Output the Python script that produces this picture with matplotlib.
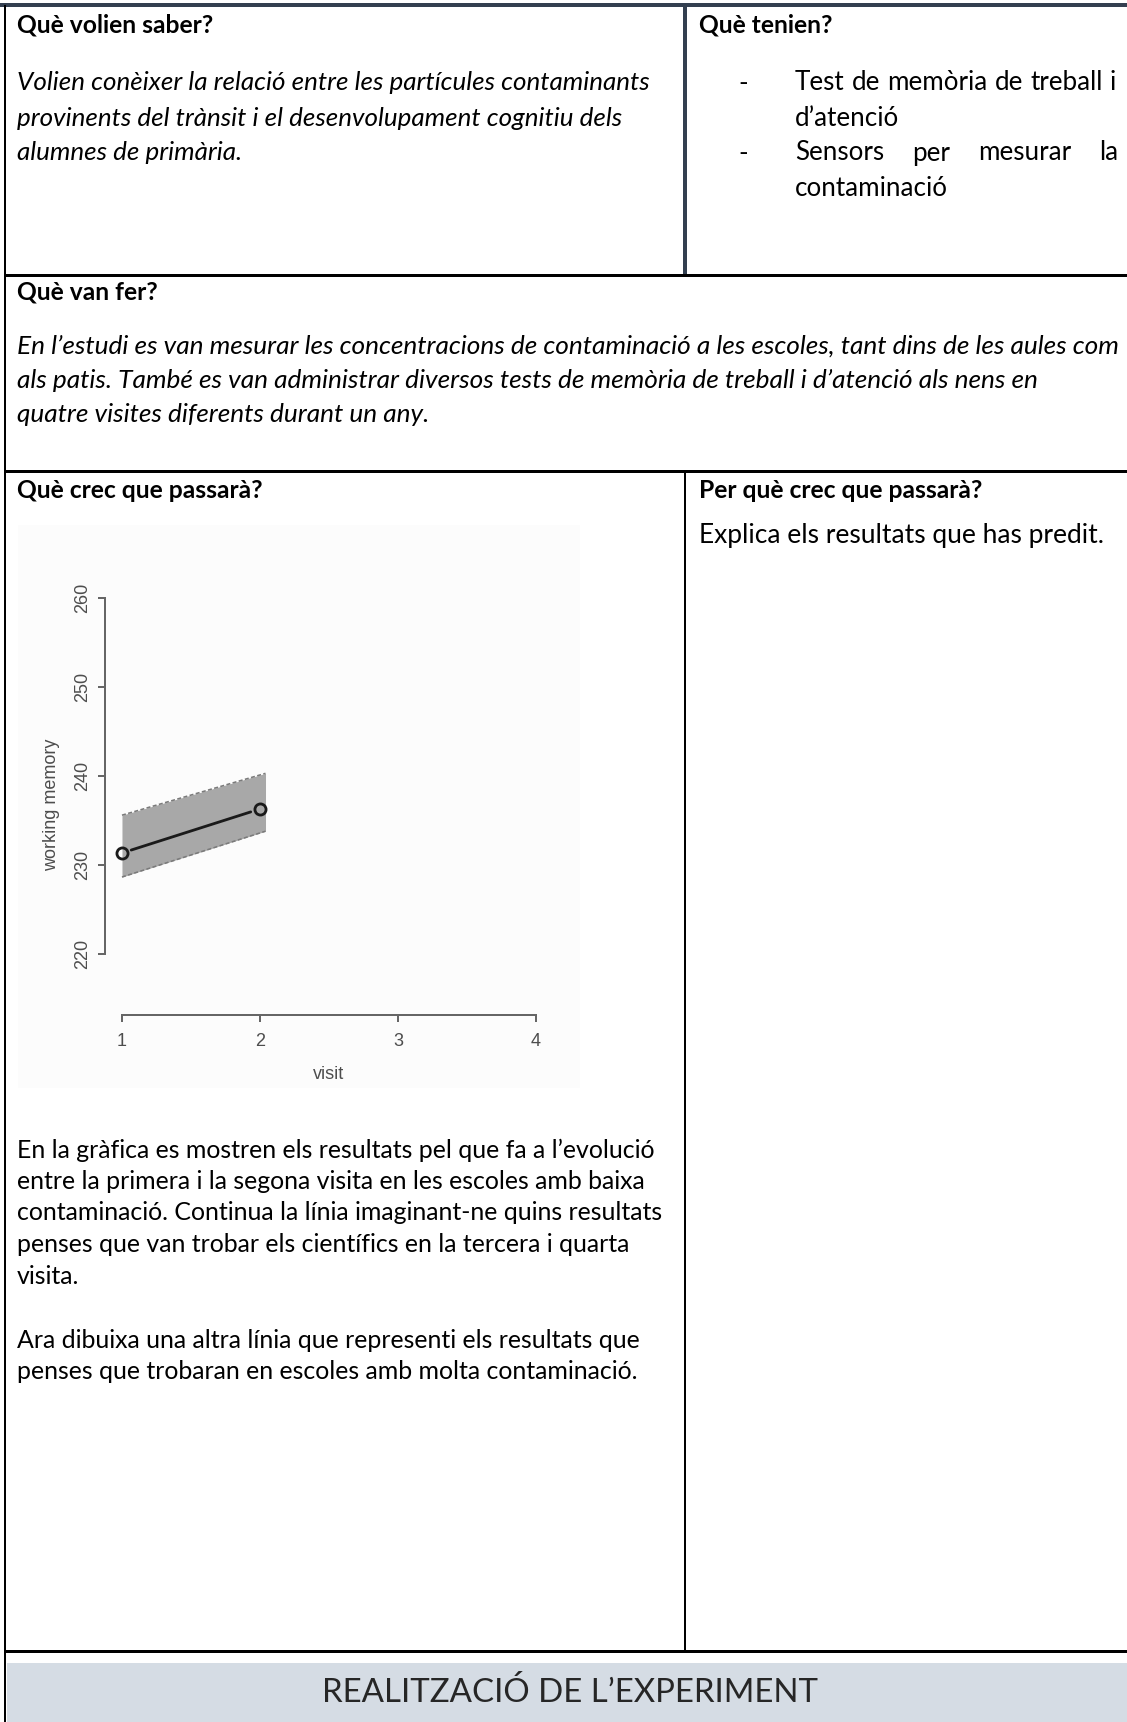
import matplotlib
matplotlib.use('Agg')
import matplotlib.pyplot as plt
from matplotlib.patches import Rectangle

# Mida del full en píxels
W, H = 1127, 1722
DPI = 100

# Dades de la gràfica (memòria de treball per visita, escoles amb baixa contaminació)
visits = [1, 2]
memory_mean = [231.35, 236.3]
band_x = [1, 2.04]
band_low = [228.65, 233.8]
band_high = [235.6, 240.3]
y_ticks = [220, 230, 240, 250, 260]
x_ticks = [1, 2, 3, 4]

# Textos de la fitxa
head_saber = 'Què volien saber?'
text_saber = ['Volien conèixer la relació entre les partícules contaminants',
              'provinents del trànsit i el desenvolupament cognitiu dels',
              'alumnes de primària.']
head_tenien = 'Què tenien?'
head_fer = 'Què van fer?'
text_fer = ['En l’estudi es van mesurar les concentracions de contaminació a les escoles, tant dins de les aules com',
            'als patis. També es van administrar diversos tests de memòria de treball i d’atenció als nens en',
            'quatre visites diferents durant un any.']
head_crec = 'Què crec que passarà?'
head_perque = 'Per què crec que passarà?'
text_perque = 'Explica els resultats que has predit.'
text_grafica = ['En la gràfica es mostren els resultats pel que fa a l’evolució',
                'entre la primera i la segona visita en les escoles amb baixa',
                'contaminació. Continua la línia imaginant-ne quins resultats',
                'penses que van trobar els científics en la tercera i quarta',
                'visita.']
text_ara = ['Ara dibuixa una altra línia que representi els resultats que',
            'penses que trobaran en escoles amb molta contaminació.']
banner = 'REALITZACIÓ DE L’EXPERIMENT'

FONT = 'Lato'
SLATE = '#333f50'

fig = plt.figure(figsize=(W / DPI, H / DPI), dpi=DPI)
canvas = fig.add_axes([0, 0, 1, 1])
canvas.set_xlim(0, W)
canvas.set_ylim(H, 0)
canvas.axis('off')
renderer = fig.canvas.get_renderer()


def px(pt):
    """Gruix en punts a partir de píxels."""
    return pt * 72 / DPI


def fit_text(x, y, s, width, size=16, **kw):
    t = canvas.text(x, y, s, fontsize=size, family=FONT, va='center', **kw)
    w = t.get_window_extent(renderer=renderer).width
    t.set_fontsize(size * width / w)
    return t.get_fontsize()


def justify(words, x0, x1, y, size, **kw):
    ts = [canvas.text(0, y, w, fontsize=size, family=FONT, va='center', **kw) for w in words]
    widths = [t.get_window_extent(renderer=renderer).width for t in ts]
    gap = (x1 - x0 - sum(widths)) / (len(words) - 1)
    x = x0
    for t, w in zip(ts, widths):
        t.set_x(x)
        x += w + gap


# Vores de la taula
canvas.plot([0, W], [5, 5], color=SLATE, lw=px(4), solid_capstyle='butt')
canvas.plot([5, 5], [5, H], color='black', lw=px(2), solid_capstyle='butt')
canvas.plot([685, 685], [5, 274], color=SLATE, lw=px(4), solid_capstyle='butt')
canvas.plot([4, W], [274.5, 274.5], color='black', lw=px(3), solid_capstyle='butt')
canvas.plot([4, W], [471, 471], color='black', lw=px(3), solid_capstyle='butt')
canvas.plot([685, 685], [471, 1650], color='black', lw=px(2), solid_capstyle='butt')
canvas.plot([4, W], [1650.5, 1650.5], color='black', lw=px(3), solid_capstyle='butt')
canvas.add_patch(Rectangle((7, 1663), W - 7, H - 1663, facecolor='#d5dce4', edgecolor='none'))

# Fila 1
hs = fit_text(17, 25, head_saber, 197, fontweight='bold')
fs = fit_text(17, 83, text_saber[0], 632, style='italic')
for i, line in enumerate(text_saber[1:]):
    canvas.text(17, 118 + 35 * i, line, fontsize=fs, family=FONT, style='italic', va='center')

canvas.text(699, 25, head_tenien, fontsize=hs, fontweight='bold', family=FONT, va='center')
for y in [83, 153]:
    canvas.text(738, y, '-', fontsize=fs, family=FONT, va='center')
justify(['Test', 'de', 'memòria', 'de', 'treball', 'i'], 795, 1116, 83, fs)
canvas.text(795, 118, 'd’atenció', fontsize=fs, family=FONT, va='center')
justify(['Sensors', 'per', 'mesurar', 'la'], 795, 1118, 153, fs)
canvas.text(795, 188, 'contaminació', fontsize=fs, family=FONT, va='center')

# Fila 2
canvas.text(17, 292, head_fer, fontsize=hs, fontweight='bold', family=FONT, va='center')
ff = fit_text(17, 346, text_fer[0], 1104, style='italic')
for i, line in enumerate(text_fer[1:]):
    canvas.text(17, 380 + 34 * i, line, fontsize=ff, family=FONT, style='italic', va='center')

# Fila 3
canvas.text(17, 490, head_crec, fontsize=hs, fontweight='bold', family=FONT, va='center')
canvas.text(699, 490, head_perque, fontsize=hs, fontweight='bold', family=FONT, va='center')
fit_text(699, 535, text_perque, 407)

pf = fit_text(17, 1150, text_grafica[0], 640)
for i, line in enumerate(text_grafica[1:]):
    canvas.text(17, 1150 + 31.5 * (i + 1), line, fontsize=pf, family=FONT, va='center')
for i, line in enumerate(text_ara):
    canvas.text(17, 1340 + 31.5 * i, line, fontsize=pf, family=FONT, va='center')

fit_text(322, 1693, banner, 495, color='#262626')

# Fons de la imatge de la gràfica
canvas.add_patch(Rectangle((18, 525), 562, 563, facecolor='#fcfcfc', edgecolor='none', zorder=0))

# Gràfica: eixos en píxels del full
x_lo, x_hi = 0.877, 4.25
y_lo, y_hi = 213.15, 261.5
ax_left, ax_right = 105, 122 + (x_hi - 1) * 138
ax_bottom, ax_top = 1015, 598 - (y_hi - 260) * 8.9
ax = fig.add_axes([ax_left / W, 1 - ax_bottom / H,
                   (ax_right - ax_left) / W, (ax_bottom - ax_top) / H])
ax.set_facecolor('none')
ax.set_xlim(x_lo, x_hi)
ax.set_ylim(y_lo, y_hi)

ax.fill_between(band_x, band_low, band_high, color='#a8a8a8', lw=0)
ax.plot(band_x, band_high, color='#7a7a7a', lw=px(1.6), ls=(0, (2.5, 1.5)))
ax.plot(band_x, band_low, color='#7a7a7a', lw=px(1.6), ls=(0, (2.5, 1.5)))
ax.annotate('', xy=(visits[1], memory_mean[1]), xytext=(visits[0], memory_mean[0]),
            arrowprops=dict(arrowstyle='-', color='#1a1a1a', lw=px(2.8), shrinkA=7, shrinkB=7))
ax.plot(visits, memory_mean, ls='none', marker='o', ms=8, mfc='none',
        mec='#1a1a1a', mew=px(2.8))

AXIS_GRAY = '#666666'
for side in ['top', 'right']:
    ax.spines[side].set_visible(False)
ax.spines['left'].set_bounds(y_ticks[0], y_ticks[-1])
ax.spines['bottom'].set_bounds(x_ticks[0], x_ticks[-1])
for side in ['left', 'bottom']:
    ax.spines[side].set_color(AXIS_GRAY)
    ax.spines[side].set_linewidth(px(2))

ax.set_xticks(x_ticks)
ax.set_yticks(y_ticks)
ax.set_xticklabels([str(v) for v in x_ticks])
ax.set_yticklabels([str(v) for v in y_ticks], rotation=90, va='center')
ax.tick_params(axis='both', colors=AXIS_GRAY, labelcolor='#4d4d4d', length=5,
               width=px(2), labelsize=13)
ax.tick_params(axis='x', pad=8)
ax.tick_params(axis='y', pad=5)
for lab in ax.get_xticklabels() + ax.get_yticklabels():
    lab.set_family('Liberation Sans')

ax.set_xlabel('visit', fontsize=13, family='Liberation Sans', color='#4d4d4d')
ax.set_ylabel('working memory', fontsize=13, family='Liberation Sans', color='#4d4d4d')
ax.xaxis.set_label_coords((2.5 - x_lo) / (x_hi - x_lo), -(1066 - ax_bottom) / (ax_bottom - ax_top))
ax.yaxis.set_label_coords(-(ax_left - 60) / (ax_right - ax_left), (236.8 - y_lo) / (y_hi - y_lo))

fig.savefig('out.png', dpi=DPI)
plt.close(fig)
